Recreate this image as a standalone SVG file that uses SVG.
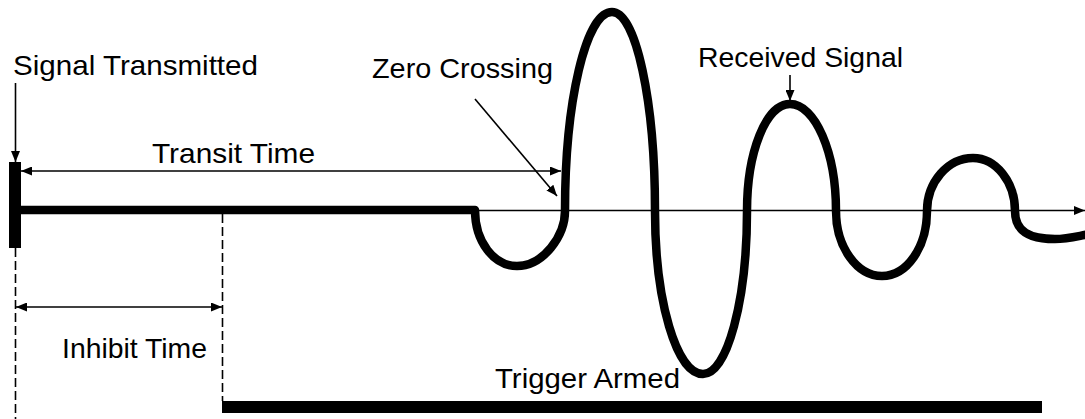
<svg xmlns="http://www.w3.org/2000/svg" width="1085" height="419" viewBox="0 0 1085 419">
  <style>
    .lbl { font-family: "Liberation Sans", Arial, sans-serif; font-size: 28px; fill: #000; }
    .thin { stroke: #000; stroke-width: 1.6; fill: none; }
    .dash { stroke: #000; stroke-width: 1.6; fill: none; stroke-dasharray: 9 4; }
    .wave { stroke: #000; stroke-width: 8.5; fill: none; stroke-linejoin: round; }
  </style>
  <defs>
    <marker id="ah" markerUnits="userSpaceOnUse" markerWidth="12" markerHeight="9" refX="11" refY="4.5" orient="auto-start-reverse">
      <path d="M0,0 L11,4.5 L0,9 z" fill="#000"/>
    </marker>
  </defs>
  <rect width="1085" height="419" fill="#fff"/>

  <g id="transmit-pulse">
    <rect x="9" y="162" width="12" height="86" fill="#000"/>
  </g>

  <g id="signal-trace">
    <path class="wave" d="M21,210 L475,210 C475,242 494,266 517,266 C543.5,266 565,235.6 565,211 C565,101 586,12 612,12 C636,12 655,101 655,211 C655,301 676.5,374 703,374 C727,374 747,301 747,211 C747,152 766,104 790,104 C815,104 836,152 836,211 C836,247 857,276 882,276 C907,276 927,247 927,211 C927,182 948,158 973,158 C996,158 1015,182 1015,211 C1015,232 1030,239 1055,239 C1068,239 1078,236 1090,234"/>
  </g>

  <g id="trigger-armed-bar">
    <rect x="222" y="401" width="820" height="12" fill="#000"/>
  </g>

  <g id="guides">
    <line class="dash" x1="15.5" y1="248" x2="15.5" y2="419"/>
    <line class="dash" x1="222.5" y1="214" x2="222.5" y2="401"/>
  </g>

  <g id="connectors">
    <line class="thin" x1="475" y1="210.5" x2="1085" y2="210.5" marker-end="url(#ah)"/>
    <line class="thin" x1="15.5" y1="83" x2="15.5" y2="162" marker-end="url(#ah)"/>
    <line class="thin" x1="21" y1="171" x2="561" y2="171" marker-start="url(#ah)" marker-end="url(#ah)"/>
    <line class="thin" x1="16" y1="307" x2="222" y2="307" marker-start="url(#ah)" marker-end="url(#ah)"/>
    <line class="thin" x1="475" y1="99" x2="557" y2="196" marker-end="url(#ah)"/>
    <line class="thin" x1="790" y1="75" x2="790" y2="101" marker-end="url(#ah)"/>
  </g>

  <g id="label-signal-transmitted"><text class="lbl" x="13" y="75" textLength="245" lengthAdjust="spacingAndGlyphs">Signal Transmitted</text></g>
  <g id="label-zero-crossing"><text class="lbl" x="372" y="78" textLength="181" lengthAdjust="spacingAndGlyphs">Zero Crossing</text></g>
  <g id="label-received-signal"><text class="lbl" x="698" y="67" textLength="205" lengthAdjust="spacingAndGlyphs">Received Signal</text></g>
  <g id="label-transit-time"><text class="lbl" x="152" y="163" textLength="163" lengthAdjust="spacingAndGlyphs">Transit Time</text></g>
  <g id="label-inhibit-time"><text class="lbl" x="62" y="358" textLength="145" lengthAdjust="spacingAndGlyphs">Inhibit Time</text></g>
  <g id="label-trigger-armed"><text class="lbl" x="495" y="388" textLength="185" lengthAdjust="spacingAndGlyphs">Trigger Armed</text></g>
</svg>
